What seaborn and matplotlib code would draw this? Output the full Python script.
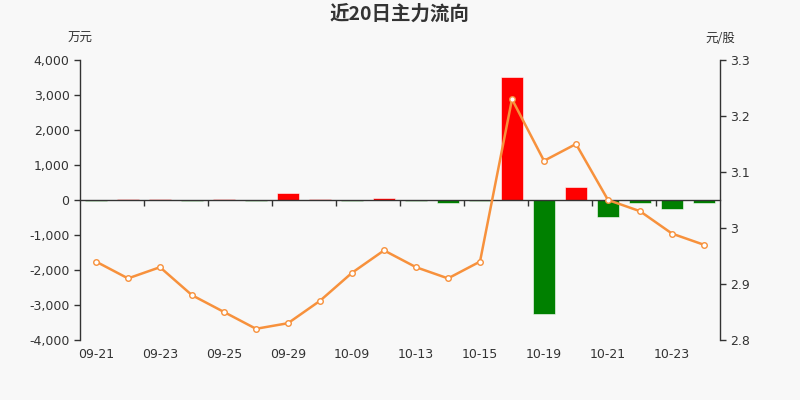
import numpy as np
import pandas as pd
import matplotlib
matplotlib.use('Agg')
import matplotlib.pyplot as plt
import matplotlib.ticker as mticker
import matplotlib.transforms as mtransforms
import seaborn as sns

# data
dates = ['09-21', '09-22', '09-23', '09-24', '09-25', '09-28', '09-29', '09-30',
         '10-09', '10-12', '10-13', '10-14', '10-15', '10-16', '10-19', '10-20',
         '10-21', '10-22', '10-23', '10-26']
flow = [-20, 20, 30, -40, 15, -20, 200, 20, -40, 65, -25, -75, -20, 3500,
        -3260, 370, -480, -80, -260, -80]          # 万元
price = [2.94, 2.91, 2.93, 2.88, 2.85, 2.82, 2.83, 2.87, 2.92, 2.96, 2.93,
         2.91, 2.94, 3.23, 3.12, 3.15, 3.05, 3.03, 2.99, 2.97]  # 元/股

df = pd.DataFrame({'date': dates, 'flow': flow, 'price': price})
df['pos'] = np.arange(len(df))
bar_colors = ['#ff0000' if v >= 0 else '#008000' for v in flow]

sns.set_style('white')
plt.rcParams['font.family'] = ['Noto Sans CJK SC', 'DejaVu Sans']
plt.rcParams['axes.unicode_minus'] = False

fig = plt.figure(figsize=(8, 4), dpi=100, facecolor='#f8f8f8')
ax = fig.add_axes([0.1, 0.15, 0.8, 0.7])
ax.set_facecolor('#f8f8f8')

sns.barplot(data=df, x='date', y='flow', hue='date', palette=bar_colors,
            legend=False, width=0.68, saturation=1, ax=ax,
            edgecolor='#ffffff', linewidth=0.4)
ax.set_xlim(-0.5, len(dates) - 0.5)
ax.set_ylim(-4000, 4000)
ax.set_yticks(np.arange(-4000, 4001, 1000))
ax.yaxis.set_major_formatter(mticker.FuncFormatter(lambda v, p: f'{int(v):,}'))
ax.set_xlabel('')
ax.set_ylabel('')

# x axis line sits on zero, ticks between every second pair of bars
ax.spines['bottom'].set_position(('data', 0))
ax.spines['top'].set_visible(False)
ax.spines['right'].set_visible(False)
ax.set_xticks([])
ax.set_xticks(np.arange(1.5, len(dates) - 1, 2), minor=True)
ax.tick_params(axis='x', which='minor', bottom=True, length=4, width=1,
               color='#333333', direction='out')
ax.tick_params(axis='y', length=4, width=1, color='#333333', labelsize=9,
               labelcolor='#333333', direction='out', left=True)
for s in ['left', 'bottom']:
    ax.spines[s].set_color('#333333')
    ax.spines[s].set_linewidth(1)
ax.spines['bottom'].set_zorder(4)

trans = mtransforms.blended_transform_factory(ax.transData, ax.transAxes)
for i in range(0, len(dates), 2):
    ax.text(i, -0.028, dates[i], transform=trans, ha='center', va='top',
            fontsize=9, color='#333333', family='DejaVu Sans')

ax2 = ax.twinx()
sns.lineplot(data=df, x='pos', y='price', ax=ax2, color='#f7913c', linewidth=1.8,
             marker='o', markersize=4, markerfacecolor='white',
             markeredgecolor='#f7913c', markeredgewidth=1, zorder=5)
ax2.set_ylim(2.8, 3.3)
ax2.set_yticks([2.8, 2.9, 3.0, 3.1, 3.2, 3.3])
ax2.yaxis.set_major_formatter(mticker.FuncFormatter(lambda v, p: f'{round(v, 1):g}'))
ax2.set_xlabel('')
ax2.set_ylabel('')
ax2.set_xlim(-0.5, len(dates) - 0.5)
for s in ['left', 'top', 'bottom']:
    ax2.spines[s].set_visible(False)
ax2.spines['right'].set_color('#333333')
ax2.spines['right'].set_linewidth(1)
ax2.tick_params(axis='y', length=4, width=1, color='#333333', labelsize=9,
                labelcolor='#333333', direction='out', right=True)

for lab in ax.get_yticklabels() + ax2.get_yticklabels():
    lab.set_family('DejaVu Sans')

fig.text(0.5, 0.965, '近20日主力流向', ha='center', va='center', fontsize=14,
         fontweight='bold', color='#333333')
fig.text(0.1, 0.903, '万元', ha='center', va='center', fontsize=9, color='#333333')
fig.text(0.9, 0.903, '元/股', ha='center', va='center', fontsize=9, color='#333333')

fig.savefig('out.png', dpi=100, facecolor=fig.get_facecolor())
